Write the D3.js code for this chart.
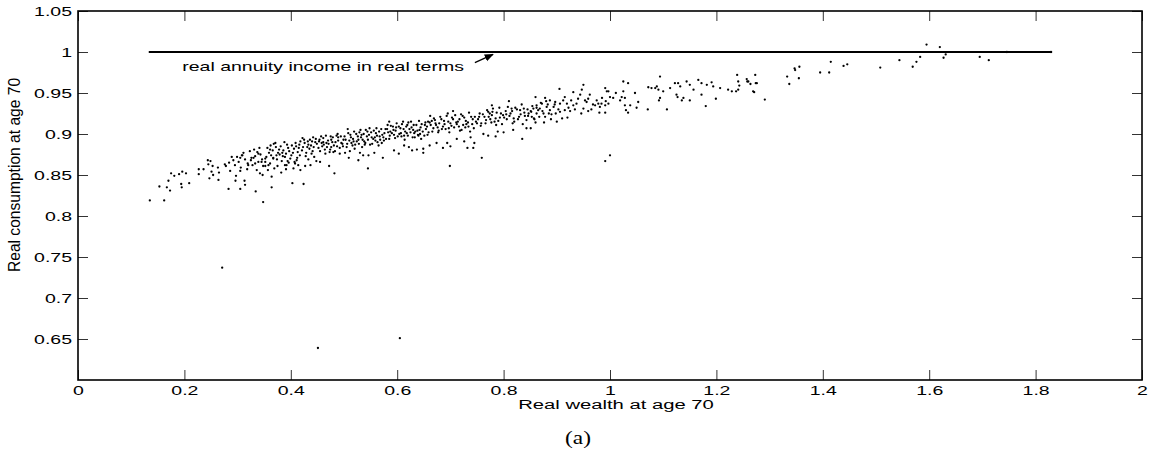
<!DOCTYPE html>
<html>
<head>
<meta charset="utf-8">
<script src="https://cdn.jsdelivr.net/npm/d3@7"></script>
<style>
    body { margin: 0; background: #fff; }
    svg { display: block; font-family: "Liberation Sans", Arial, sans-serif; }
    .dot { fill: #000; }
</style>
</head>
<body>
<svg id="chart"></svg>
<script>
// ticks
const xTicks = [0, 0.2, 0.4, 0.6, 0.8, 1, 1.2, 1.4, 1.6, 1.8, 2];
const xTickLabels = ["0", "0.2", "0.4", "0.6", "0.8", "1", "1.2", "1.4", "1.6", "1.8", "2"];
const yTicks = [0.65, 0.7, 0.75, 0.8, 0.85, 0.9, 0.95, 1, 1.05];
const yTickLabels = ["0.65", "0.7", "0.75", "0.8", "0.85", "0.9", "0.95", "1", "1.05"];

// real annuity income line (wealth from, wealth to, level)
const annuityLine = [0.133, 1.831, 1.0];

// simulated households: [real wealth at 70, real consumption at 70]
const leftTail = [
    [0.135,0.819],[0.162,0.819],[0.153,0.836],[0.167,0.835],[0.173,0.831],[0.170,0.843],[0.175,0.852],
    [0.181,0.849],[0.190,0.851],[0.196,0.854],[0.203,0.852],[0.194,0.839],[0.195,0.835],[0.209,0.840],
    [0.227,0.857],[0.227,0.851],[0.236,0.857],[0.244,0.868],[0.249,0.867],[0.245,0.863],[0.253,0.861],
    [0.251,0.854],[0.254,0.850],[0.247,0.846],[0.263,0.859],[0.265,0.853],[0.264,0.844],[0.276,0.863],
    [0.278,0.861],[0.284,0.865],[0.289,0.872],[0.292,0.868],[0.295,0.862],[0.299,0.872],[0.305,0.871],
    [0.308,0.874],[0.286,0.855],[0.297,0.849],[0.305,0.855],[0.283,0.833],[0.296,0.843],[0.305,0.833],
    [0.314,0.838],[0.313,0.843],[0.320,0.862],[0.325,0.868],[0.330,0.871],[0.333,0.864],[0.336,0.856],
    [0.339,0.876],[0.345,0.866],[0.342,0.852],[0.347,0.850],[0.334,0.830],
    [0.302,0.866],[0.337,0.878],[0.318,0.857],[0.346,0.869],[0.309,0.874],[0.328,0.862],[0.341,0.883],
    [0.314,0.869],[0.333,0.873],[0.306,0.859],[0.323,0.879],[0.348,0.861],[0.311,0.877],[0.339,0.866],
    [0.326,0.871],[0.343,0.875],[0.319,0.864],[0.331,0.881]
];

const lowerCore = [
    [0.352,0.870],[0.352,0.861],[0.364,0.848],[0.364,0.835],[0.361,0.864],[0.367,0.870],[0.373,0.874],
    [0.389,0.872],[0.392,0.862],[0.391,0.857],[0.403,0.840],[0.408,0.864],[0.411,0.868],[0.424,0.839],
    [0.427,0.861],[0.482,0.852],[0.418,0.856],[0.437,0.862],[0.455,0.866],[0.472,0.861],[0.509,0.871],
    [0.536,0.874],[0.557,0.877],[0.573,0.871],[0.594,0.880],[0.622,0.884],[0.661,0.886],[0.700,0.885],
    [0.726,0.891],[0.771,0.898],[0.800,0.902],[0.851,0.907],
    [0.480,0.878],[0.492,0.876],[0.502,0.877],[0.511,0.879],[0.530,0.877],[0.527,0.868],[0.545,0.858],
    [0.546,0.874],[0.603,0.876],[0.628,0.880],[0.649,0.877],[0.649,0.882],[0.674,0.889],[0.686,0.883],
    [0.694,0.889],[0.699,0.861],[0.732,0.883],[0.743,0.883],[0.745,0.889],[0.759,0.871],[0.785,0.897],
    [0.835,0.894],[0.613,0.886],[0.637,0.881],[0.712,0.894],[0.738,0.896],[0.762,0.900],[0.789,0.903],
    [0.818,0.905],[0.843,0.907],
    [0.357,0.856],[0.375,0.861],[0.396,0.865],[0.414,0.862],[0.433,0.869],[0.382,0.853],[0.405,0.858]
];

const core = [
    [0.356,0.883],[0.412,0.871],[0.371,0.889],[0.389,0.862],[0.402,0.886],[0.363,0.874],[0.397,0.879],
    [0.418,0.891],[0.352,0.866],[0.378,0.881],[0.385,0.873],[0.407,0.866],[0.366,0.880],[0.393,0.887],
    [0.374,0.869],[0.415,0.883],[0.359,0.877],[0.381,0.885],[0.404,0.877],[0.369,0.858],[0.391,0.876],
    [0.409,0.889],[0.376,0.877],[0.354,0.872],[0.399,0.870],[0.386,0.880],[0.413,0.878],[0.362,0.886],
    [0.395,0.883],[0.383,0.867],[0.406,0.882],[0.372,0.884],[0.417,0.874],[0.358,0.862],[0.388,0.890],
    [0.401,0.874],[0.367,0.871],[0.379,0.875],[0.410,0.885],[0.394,0.867],[0.361,0.881],[0.384,0.877],
    [0.416,0.887],[0.368,0.888],[0.422,0.895],[0.440,0.891],
    [0.423,0.884],[0.476,0.893],[0.441,0.879],[0.458,0.889],[0.432,0.891],[0.487,0.885],[0.465,0.876],
    [0.447,0.894],[0.429,0.877],[0.494,0.897],[0.452,0.883],[0.471,0.888],[0.438,0.886],[0.483,0.879],
    [0.426,0.889],[0.461,0.895],[0.497,0.888],[0.444,0.872],[0.479,0.896],[0.435,0.882],[0.468,0.884],
    [0.455,0.879],[0.489,0.892],[0.421,0.880],[0.449,0.888],[0.474,0.881],[0.436,0.893],[0.462,0.887],
    [0.492,0.883],[0.443,0.884],[0.484,0.890],[0.428,0.873],[0.457,0.897],[0.470,0.892],[0.433,0.887],
    [0.499,0.893],[0.446,0.890],[0.481,0.886],[0.464,0.881],[0.439,0.876],[0.486,0.898],[0.453,0.891],
    [0.425,0.893],[0.473,0.878],[0.495,0.889],[0.459,0.885],[0.448,0.867],[0.478,0.890],[0.431,0.884],
    [0.466,0.898],
    [0.454,0.893],[0.467,0.889],[0.489,0.896],[0.476,0.884],[0.498,0.885],[0.513,0.896],[0.527,0.893],
    [0.539,0.887],[0.544,0.903],[0.520,0.882],[0.507,0.906],[0.533,0.899],[0.552,0.896],[0.488,0.900],
    [0.461,0.890],[0.442,0.896],[0.475,0.897],[0.518,0.891],
    [0.503,0.893],[0.547,0.899],[0.521,0.887],[0.566,0.903],[0.512,0.899],[0.538,0.891],[0.574,0.896],
    [0.529,0.902],[0.505,0.884],[0.559,0.892],[0.541,0.905],[0.517,0.894],[0.553,0.888],[0.578,0.906],
    [0.526,0.897],[0.508,0.901],[0.562,0.898],[0.534,0.884],[0.545,0.893],[0.571,0.889],[0.514,0.889],
    [0.556,0.904],[0.532,0.896],[0.501,0.897],[0.568,0.893],[0.524,0.891],[0.549,0.887],[0.537,0.900],
    [0.576,0.901],[0.519,0.903],[0.558,0.896],[0.510,0.892],[0.543,0.897],[0.565,0.886],[0.528,0.888],
    [0.551,0.902],[0.579,0.894],[0.535,0.893],[0.516,0.886],[0.561,0.907],[0.540,0.889],[0.572,0.899],
    [0.506,0.888],[0.555,0.894],[0.531,0.905],[0.563,0.890],[0.523,0.900],[0.548,0.907],
    [0.567,0.897],[0.582,0.911],[0.593,0.905],[0.607,0.901],[0.619,0.911],[0.630,0.905],[0.644,0.908],
    [0.657,0.899],[0.575,0.892],[0.598,0.908],[0.613,0.898],[0.626,0.915],[0.640,0.898],[0.560,0.901],
    [0.587,0.903],[0.632,0.901],[0.653,0.914],[0.570,0.906],
    [0.583,0.902],[0.627,0.908],[0.601,0.897],[0.646,0.912],[0.592,0.909],[0.618,0.901],[0.654,0.906],
    [0.609,0.912],[0.585,0.894],[0.639,0.899],[0.621,0.914],[0.597,0.904],[0.633,0.896],[0.658,0.915],
    [0.606,0.907],[0.588,0.910],[0.642,0.905],[0.614,0.893],[0.625,0.902],[0.651,0.898],[0.594,0.899],
    [0.636,0.911],[0.612,0.906],[0.581,0.906],[0.648,0.903],[0.604,0.900],[0.629,0.896],[0.617,0.909],
    [0.656,0.909],[0.599,0.913],[0.638,0.904],[0.590,0.901],[0.623,0.906],[0.645,0.894],[0.608,0.897],
    [0.631,0.911],[0.659,0.902],[0.615,0.903],[0.596,0.895],[0.641,0.916],[0.620,0.898],[0.652,0.911],
    [0.586,0.898],[0.634,0.903],[0.611,0.915],[0.643,0.900],[0.603,0.909],
    [0.665,0.916],[0.677,0.902],[0.689,0.912],[0.703,0.920],[0.716,0.909],[0.729,0.916],[0.742,0.918],
    [0.754,0.921],[0.767,0.917],[0.779,0.927],[0.793,0.920],[0.683,0.918],[0.697,0.907],[0.711,0.914],
    [0.734,0.909],[0.758,0.913],[0.774,0.925],[0.786,0.911],[0.672,0.913],[0.720,0.924],
    [0.663,0.911],[0.717,0.918],[0.684,0.906],[0.739,0.921],[0.671,0.917],[0.702,0.910],[0.748,0.915],
    [0.693,0.922],[0.666,0.903],[0.728,0.908],[0.709,0.923],[0.679,0.913],[0.721,0.905],[0.755,0.925],
    [0.688,0.916],[0.669,0.919],[0.733,0.914],[0.698,0.902],[0.712,0.912],[0.744,0.907],[0.676,0.908],
    [0.726,0.920],[0.696,0.915],[0.661,0.914],[0.741,0.912],[0.686,0.909],[0.718,0.904],[0.705,0.918],
    [0.752,0.918],[0.681,0.921],[0.730,0.912],[0.673,0.911],[0.714,0.915],[0.737,0.903],[0.691,0.906],
    [0.723,0.922],[0.757,0.910],[0.700,0.913],[0.678,0.904],[0.735,0.926],[0.707,0.908],[0.746,0.921],
    [0.668,0.907],[0.724,0.911],[0.695,0.925],[0.750,0.913],
    [0.764,0.921],[0.816,0.928],[0.783,0.915],[0.838,0.931],[0.771,0.927],[0.801,0.920],[0.847,0.925],
    [0.792,0.932],[0.766,0.913],[0.827,0.918],[0.808,0.933],[0.778,0.923],[0.820,0.915],[0.854,0.934],
    [0.787,0.926],[0.769,0.929],[0.832,0.924],[0.797,0.912],[0.811,0.922],[0.843,0.917],[0.775,0.918],
    [0.825,0.930],[0.795,0.925],[0.761,0.924],[0.840,0.922],[0.785,0.919],[0.817,0.913],[0.804,0.928],
    [0.851,0.928],[0.780,0.931],[0.829,0.921],[0.772,0.921],[0.813,0.925],[0.836,0.912],[0.790,0.916],
    [0.822,0.932],[0.857,0.919],[0.799,0.923],[0.777,0.914],[0.834,0.936],[0.806,0.918],[0.845,0.930],
    [0.805,0.924],[0.819,0.919],[0.831,0.929],[0.846,0.922],[0.862,0.932],[0.873,0.928],[0.885,0.925],
    [0.896,0.936],[0.815,0.931],[0.839,0.926],[0.867,0.921],[0.880,0.940],
    [0.852,0.927],[0.858,0.918],[0.865,0.929],[0.870,0.938],[0.876,0.914],[0.883,0.936],[0.889,0.918],
    [0.894,0.933],[0.898,0.925],
    [0.585,0.915],[0.662,0.922],[0.705,0.928],[0.778,0.935],[0.810,0.940],[0.860,0.945],[0.905,0.955]
];

const rightTail = [
    [0.860,0.914],[0.900,0.915],[0.910,0.919],[0.920,0.920],[0.944,0.948],[0.947,0.954],[0.931,0.951],
    [0.953,0.941],[0.956,0.939],[0.959,0.943],[0.950,0.931],[0.959,0.928],[0.931,0.935],[0.937,0.937],
    [0.927,0.941],[0.919,0.937],[0.912,0.941],[0.906,0.937],[0.897,0.939],[0.887,0.941],[0.878,0.944],
    [0.872,0.937],[0.862,0.935],[0.856,0.931],[0.868,0.931],[0.881,0.933],[0.887,0.929],[0.875,0.925],
    [0.862,0.925],[0.853,0.921],[0.878,0.921],[0.890,0.924],[0.906,0.927],[0.915,0.929],[0.925,0.928],
    [0.934,0.930],[0.903,0.930],[0.915,0.945],[0.922,0.932],[0.940,0.943],[0.946,0.925],[0.962,0.948],
    [0.968,0.936],[0.985,0.944],[0.965,0.930],[0.980,0.926],[0.992,0.940],[0.997,0.937],[0.950,0.960],
    [0.975,0.941],[0.978,0.937],[0.984,0.937],[0.972,0.935],[0.981,0.933],[0.991,0.935],[0.991,0.926],
    [1.025,0.952],[1.022,0.945],[1.028,0.944],[1.019,0.941],[1.006,0.944],[1.000,0.945],[0.997,0.952],
    [0.991,0.956],[0.994,0.952],[1.011,0.950],[1.047,0.950],[1.053,0.939],[1.050,0.932],[1.038,0.935],
    [1.030,0.929],[1.028,0.935],[1.034,0.926],[1.071,0.930],[1.025,0.964],[1.034,0.962],[1.094,0.970],
    [1.072,0.957],[1.078,0.956],[1.088,0.958],[1.091,0.954],[1.092,0.941],[1.085,0.956],[1.100,0.952],
    [1.094,0.944],[1.107,0.930],[1.113,0.956],[1.122,0.962],[1.128,0.962],[1.132,0.958],[1.125,0.948],
    [1.135,0.941],[1.138,0.944],[1.127,0.945],[1.144,0.964],[1.150,0.960],[1.157,0.954],[1.150,0.941],
    [1.166,0.966],[1.172,0.962],[1.172,0.948],[1.182,0.960],[1.180,0.934],[1.191,0.963],[1.194,0.958],
    [1.199,0.943],[1.207,0.956],[1.222,0.954],[1.229,0.952],[1.241,0.954],[1.237,0.952],[1.239,0.972],
    [1.241,0.964],[1.243,0.959],[1.257,0.967],[1.258,0.964],[1.260,0.964],[1.264,0.961],[1.269,0.952],
    [1.273,0.972],[1.274,0.962],[1.276,0.962],[1.271,0.951],[1.291,0.942],[1.333,0.970],[1.337,0.961],
    [1.347,0.980],[1.348,0.978],[1.356,0.982],[1.355,0.968],[1.395,0.975],[1.412,0.975],[1.415,0.988],
    [1.439,0.983],[1.446,0.985],[1.508,0.981],[1.544,0.990],[1.569,0.982],[1.576,0.988],[1.583,0.994],
    [1.595,1.009],[1.620,1.006],[1.627,0.993],[1.631,0.997],[1.695,0.994],[1.712,0.990],[1.746,1.000],
    [1.829,1.000]
];

const outliers = [
    [0.271,0.737],[0.348,0.817],[0.451,0.639],[0.605,0.651],[0.991,0.867],[1.000,0.874]
];

const households = leftTail.concat(lowerCore, core, rightTail, outliers);

// annotation: text anchor and arrow (data units)
const noteText = "real annuity income in real terms";
const notePos = [0.196, 0.977];
const arrowFrom = [0.746, 0.987];
const arrowTo = [0.780, 0.997];

const width = 1155, height = 471;
const margin = { top: 11, right: 13, bottom: 91, left: 78 };
const stretch = 1.5;   // the figure text is wide, like the original export

const svg = d3.select('#chart')
    .attr('width', width)
    .attr('height', height);

svg.append('defs').append('marker')
    .attr('id', 'head')
    .attr('viewBox', '0 0 10 10')
    .attr('refX', 9).attr('refY', 5)
    .attr('markerWidth', 7).attr('markerHeight', 7)
    .attr('orient', 'auto')
    .append('path')
    .attr('d', 'M0,1 L10,5 L0,9 Z')
    .attr('fill', '#000');

const x = d3.scaleLinear()
    .domain([0, 2])
    .range([margin.left, width - margin.right]);

const y = d3.scaleLinear()
    .domain([0.6, 1.05])
    .range([height - margin.bottom, margin.top]);

// dots
svg.append('g')
    .selectAll('circle')
    .data(households)
    .join('circle')
        .attr('class', 'dot')
        .attr('cx', d => x(d[0]))
        .attr('cy', d => y(d[1]))
        .attr('r', 1.15);

// annuity line
svg.append('line')
    .attr('x1', x(annuityLine[0]))
    .attr('x2', x(annuityLine[1]))
    .attr('y1', y(annuityLine[2]))
    .attr('y2', y(annuityLine[2]))
    .attr('stroke', '#000')
    .attr('stroke-width', 2.2);

function xAxis(g){
    g
    .call(d3.axisBottom(x)
        .tickValues(xTicks)
        .tickSize(-10)
        .tickPadding(6)
        .tickFormat((d, i) => xTickLabels[i]))
    .attr('transform', `translate(0, ${height - margin.bottom})`)
    .call(g => g.select('.domain').remove())
    .call(g => g.selectAll('.tick line').attr('stroke', '#333'))
    .call(g => g.selectAll('.tick text')
        .attr('font-size', 13)
        .attr('font-family', '"Liberation Sans", Arial, sans-serif')
        .attr('fill', '#000')
        .attr('transform', `scale(${stretch},1)`));
}

function yAxis(g){
    g
    .call(d3.axisLeft(y)
        .tickValues(yTicks)
        .tickSize(-10)
        .tickPadding(4)
        .tickFormat((d, i) => yTickLabels[i]))
    .attr('transform', `translate(${margin.left}, 0)`)
    .call(g => g.select('.domain').remove())
    .call(g => g.selectAll('.tick line').attr('stroke', '#333'))
    .call(g => g.selectAll('.tick text')
        .attr('font-size', 13)
        .attr('font-family', '"Liberation Sans", Arial, sans-serif')
        .attr('fill', '#000')
        .attr('transform', `scale(${stretch},1)`));
}

function topAxis(g){
    g
    .call(d3.axisTop(x).tickValues(xTicks).tickSize(-10).tickFormat(''))
    .attr('transform', `translate(0, ${margin.top})`)
    .call(g => g.select('.domain').remove())
    .call(g => g.selectAll('.tick line').attr('stroke', '#333'));
}

function rightAxis(g){
    g
    .call(d3.axisRight(y).tickValues(yTicks).tickSize(-10).tickFormat(''))
    .attr('transform', `translate(${width - margin.right}, 0)`)
    .call(g => g.select('.domain').remove())
    .call(g => g.selectAll('.tick line').attr('stroke', '#333'));
}

svg.append('g').call(xAxis);
svg.append('g').call(yAxis);
svg.append('g').call(topAxis);
svg.append('g').call(rightAxis);

// box
svg.append('rect')
    .attr('x', margin.left)
    .attr('y', margin.top)
    .attr('width', width - margin.left - margin.right)
    .attr('height', height - margin.top - margin.bottom)
    .attr('fill', 'none')
    .attr('stroke', '#000')
    .attr('stroke-width', 1.6);

// annotation
svg.append('text')
    .attr('transform', `translate(${x(notePos[0])}, ${y(notePos[1])}) scale(${stretch},1)`)
    .attr('font-size', 13)
    .text(noteText);

svg.append('line')
    .attr('x1', x(arrowFrom[0])).attr('y1', y(arrowFrom[1]))
    .attr('x2', x(arrowTo[0])).attr('y2', y(arrowTo[1]))
    .attr('stroke', '#000')
    .attr('stroke-width', 1.3)
    .attr('marker-end', 'url(#head)');

// axis titles
svg.append('text')
    .attr('transform', `translate(616, 409) scale(${stretch},1)`)
    .attr('text-anchor', 'middle')
    .attr('font-size', 13.5)
    .text('Real wealth at age 70');

svg.append('text')
    .attr('transform', `translate(20, 175) rotate(-90) scale(1.2,1.3)`)
    .attr('text-anchor', 'middle')
    .attr('font-size', 13)
    .text('Real consumption at age 70');

svg.append('text')
    .attr('transform', `translate(578, 444) scale(1.3,1)`)
    .attr('text-anchor', 'middle')
    .attr('font-family', '"Liberation Serif", "Times New Roman", serif')
    .attr('font-size', 18)
    .text('(a)');
</script>
</body>
</html>
